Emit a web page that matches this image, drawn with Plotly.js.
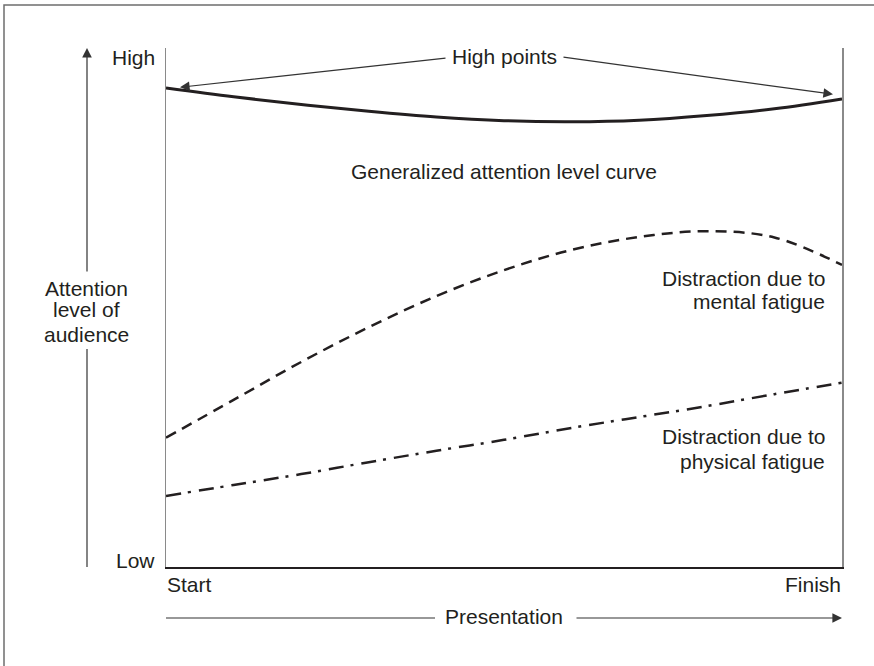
<!DOCTYPE html>
<html>
<head>
<meta charset="utf-8">
<script src="https://cdn.plot.ly/plotly-3.0.1.min.js"></script>
<style>
  html, body { margin: 0; padding: 0; background: #ffffff; }
  #chart { width: 874px; height: 666px; }
</style>
</head>
<body>
<div id="chart"></div>
<script>
// ---- Data (x = progress through presentation, 0 = Start, 100 = Finish; y = attention level, 0 = Low, 100 = High)
const timeline = [0, 10, 20, 30, 40, 50, 60, 70, 80, 90, 100];
const attentionLevel = [92.3, 90.6, 89.1, 87.8, 86.7, 86.0, 85.8, 86.1, 87.0, 88.3, 90.2];
const mentalFatigue = [24.9, 32.2, 39.5, 46.2, 52.2, 57.2, 61.1, 63.6, 64.7, 63.5, 58.2];
const physicalFatigue = [13.7, 15.8, 17.9, 20.2, 22.4, 24.5, 26.8, 28.9, 31.0, 33.3, 35.5];
const yEndLabels = ['Low', 'High'];
const xEndLabels = ['Start', 'Finish'];
const seriesLabels = {
  attention: 'Generalized attention level curve',
  mental: ['Distraction due to', 'mental fatigue'],
  physical: ['Distraction due to', 'physical fatigue'],
  yTitle: ['Attention', 'level of', 'audience'],
  xTitle: 'Presentation',
  highPoints: 'High points'
};

// ---- Layout geometry (pixels)
const W = 874, H = 666;
const PL = 166, PR = 842, PT = 48, PB = 567;
const pw = PR - PL, ph = PB - PT;
const px = v => (v - PL) / pw;   // pixel x -> paper x
const py = v => (PB - v) / ph;   // pixel y -> paper y

const ink = '#231f20';
const FONT = 'Liberation Sans, Arial, Helvetica, sans-serif';
const FS = 21;

function label(text, x, y, xanchor) {
  return { text: text, xref: 'paper', yref: 'paper', x: px(x), y: py(y),
    xanchor: xanchor || 'center', yanchor: 'middle', showarrow: false,
    font: { family: FONT, size: FS, color: ink } };
}
function arrow(tipX, tipY, tailX, tailY) {
  return { text: '', xref: 'paper', yref: 'paper', x: px(tipX), y: py(tipY),
    ax: tailX - tipX, ay: tailY - tipY, axref: 'pixel', ayref: 'pixel',
    showarrow: true, arrowhead: 2, arrowsize: 1.6, arrowwidth: 1.2, arrowcolor: '#333333',
    standoff: 0, startstandoff: 0 };
}

const traces = [
  { x: timeline, y: attentionLevel, type: 'scatter', mode: 'lines', name: seriesLabels.attention,
    line: { color: ink, width: 3, shape: 'spline' } },
  { x: timeline, y: mentalFatigue, type: 'scatter', mode: 'lines', name: seriesLabels.mental.join(' '),
    line: { color: ink, width: 2.5, shape: 'spline', dash: '11px,7px' } },
  { x: timeline, y: physicalFatigue, type: 'scatter', mode: 'lines', name: seriesLabels.physical.join(' '),
    line: { color: ink, width: 2.5, shape: 'spline', dash: '15px,7px,3px,8px' } }
];

const annotations = [
  label(yEndLabels[1], 157, 57, 'right'),
  label(yEndLabels[0], 157, 560, 'right'),
  label(xEndLabels[0], 165, 584, 'left'),
  label(xEndLabels[1], 843, 584, 'right'),
  label(seriesLabels.highPoints, 504, 56, 'center'),
  label(seriesLabels.attention, 504, 171, 'center'),
  label(seriesLabels.mental[0], 827, 278, 'right'),
  label(seriesLabels.mental[1], 827, 301, 'right'),
  label(seriesLabels.physical[0], 827, 437, 'right'),
  label(seriesLabels.physical[1], 827, 461, 'right'),
  label(seriesLabels.yTitle[0], 86, 288, 'center'),
  label(seriesLabels.yTitle[1], 86, 310, 'center'),
  label(seriesLabels.yTitle[2], 86, 334, 'center'),
  label(seriesLabels.xTitle, 504, 616, 'center'),
  arrow(180, 87.3, 447, 58),
  arrow(833, 94.3, 562, 57),
  arrow(87, 48, 87, 273),
  arrow(842, 618, 575, 618)
];

const shapes = [
  { type: 'rect', xref: 'paper', yref: 'paper', x0: px(4), x1: px(900), y0: py(5), y1: py(700),
    line: { color: '#6e6e6e', width: 1.5 }, fillcolor: 'rgba(0,0,0,0)' },
  { type: 'line', xref: 'paper', yref: 'paper', x0: px(87), x1: px(87), y0: py(349), y1: py(567),
    line: { color: '#333333', width: 1.2 } },
  { type: 'line', xref: 'paper', yref: 'paper', x0: px(166), x1: px(435), y0: py(618), y1: py(618),
    line: { color: '#333333', width: 1.2 } }
];

const layout = {
  width: W, height: H,
  margin: { l: PL, r: W - PR, t: PT, b: H - PB, pad: 0 },
  paper_bgcolor: '#ffffff', plot_bgcolor: '#ffffff',
  showlegend: false,
  xaxis: { range: [0, 100], showgrid: false, zeroline: false, showticklabels: false, ticks: '',
    showline: true, linecolor: ink, linewidth: 1.5, fixedrange: true },
  yaxis: { range: [0, 100], showgrid: false, zeroline: false, showticklabels: false, ticks: '',
    showline: true, mirror: true, linecolor: '#8a8a8a', linewidth: 1.5, fixedrange: true },
  annotations: annotations,
  shapes: shapes,
  hovermode: false
};

Plotly.newPlot('chart', traces, layout, { staticPlot: true, displayModeBar: false });
</script>
</body>
</html>
